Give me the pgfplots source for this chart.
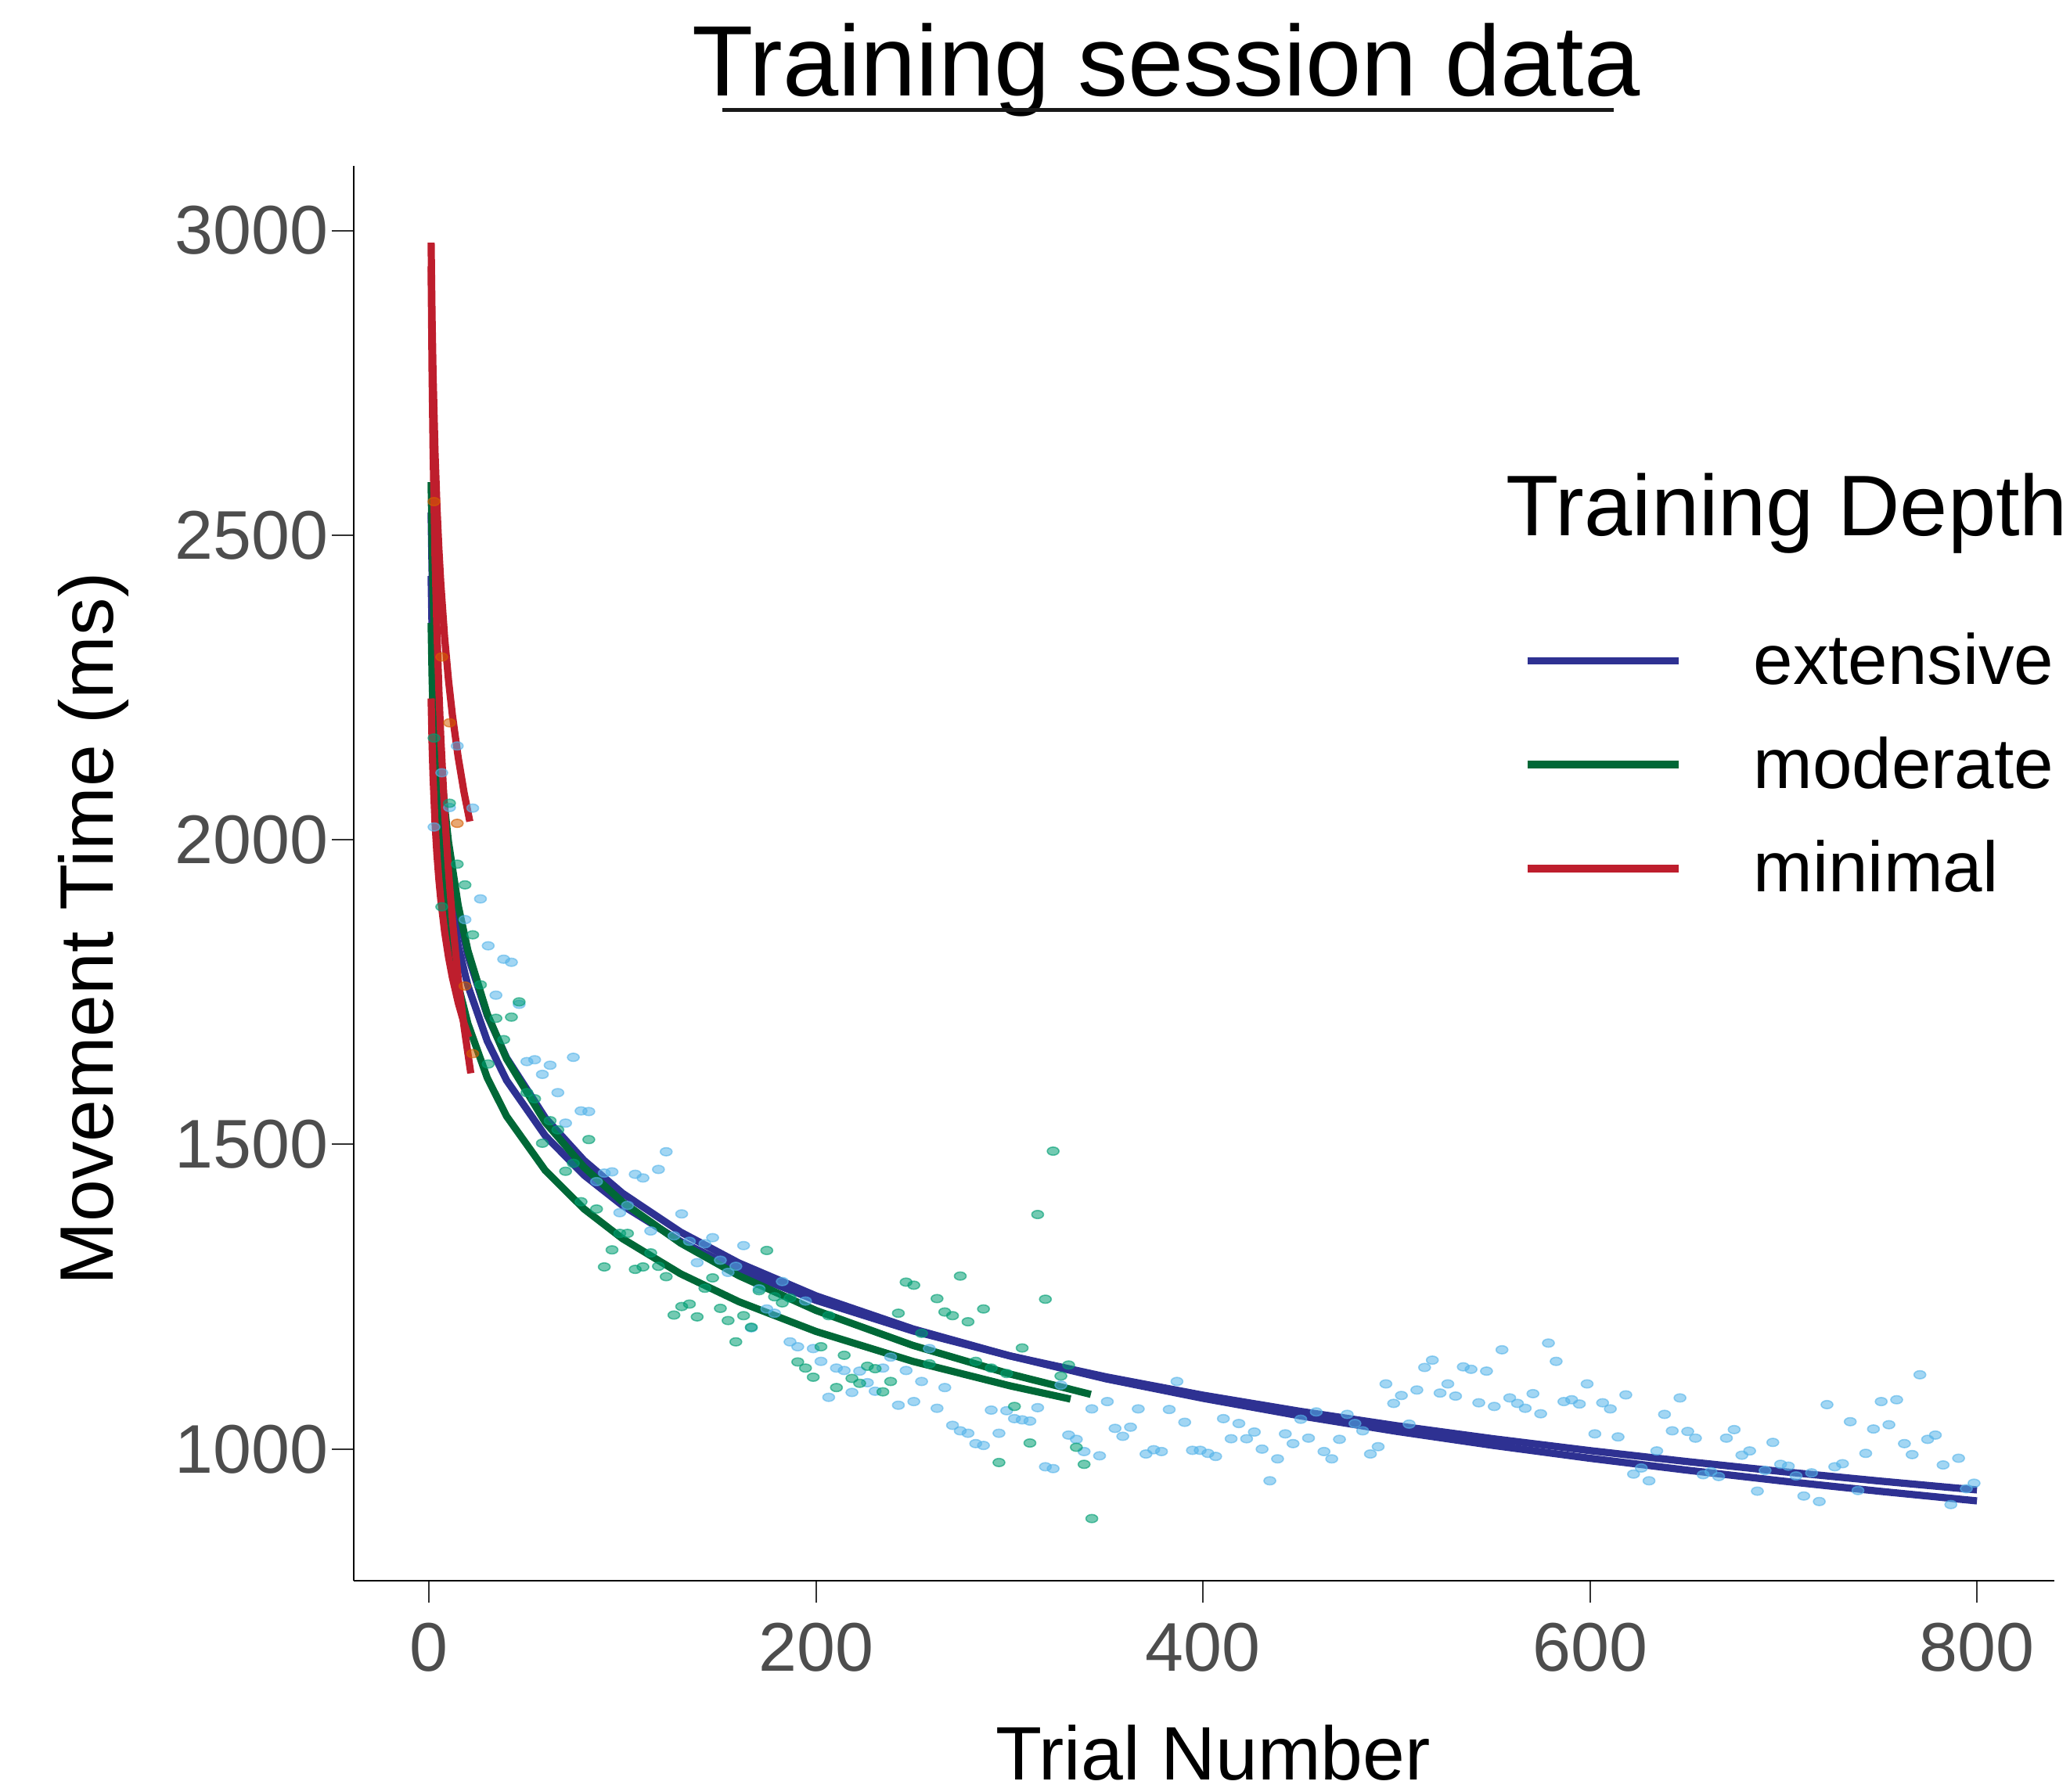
\documentclass[border=0pt]{standalone}
\usepackage{fontspec}
\setmainfont{Liberation Sans}
\usepackage{pgfplots}
\pgfplotsset{compat=1.18}

\definecolor{extline}{HTML}{2E3192}
\definecolor{modline}{HTML}{006837}
\definecolor{minline}{HTML}{BE1E2D}
\definecolor{extpt}{HTML}{56B4E9}
\definecolor{modpt}{HTML}{009E73}
\definecolor{minpt}{HTML}{D55E00}
\definecolor{tickgray}{HTML}{4D4D4D}

\pgfplotsset{
  pts/.style={only marks, mark=*, mark size=1.3pt, forget plot,
    mark options={xscale=1.45, line width=0.4pt, fill=#1, draw=#1,
      fill opacity=0.55, draw opacity=0.6}},
  fit/.style={color=#1, line width=2.3pt, no marks},
}

\begin{document}
\begin{tikzpicture}
\useasboundingbox (-113pt,-67.5pt) rectangle (548.25pt,505pt);
\begin{axis}[
  at={(0,0)}, anchor=south west,
  scale only axis, width=543.25pt, height=452pt,
  xmin=-39, xmax=840, ymin=784, ymax=3106,
  axis x line*=bottom, axis y line*=left,
  axis line style={-, line width=0.6pt},
  xtick={0,200,400,600,800}, ytick={1000,1500,2000,2500,3000},
  tick align=outside, major tick length=7pt,
  tick style={line width=0.5pt, color=black!80},
  ticklabel style={font=\fontsize{22}{25}\selectfont, text=tickgray},
  /pgf/number format/assume math mode=true,
  /pgf/number format/1000 sep={},
  xticklabel style={inner sep=0pt, yshift=-6.25pt},
  yticklabel style={inner sep=0pt, xshift=-1pt},
  xlabel={Trial Number},
  xlabel style={at={(axis description cs:0.5053,-0.14104)}, anchor=base,
    font=\fontsize{24.2}{29}\selectfont},
  ylabel={Movement Time (ms)},
  ylabel style={at={(axis description cs:-0.14128,0.46073)}, anchor=base,
    font=\fontsize{24.2}{29}\selectfont},
  legend style={at={(0.688,0.67)}, anchor=north west, draw=none, fill=none,
    inner sep=0pt, outer sep=0pt, row sep=15.2pt, column sep=22.75pt,
    font=\fontsize{22.7}{27}\selectfont, nodes={inner sep=0pt}},
  legend cell align=left,
  legend image code/.code={\draw[line width=2.4pt] (0pt,0pt) -- (48.25pt,0pt);},
]
% extensive points
\addplot[pts=extpt] coordinates {
(2.5,2021) (6.5,2110) (10.5,2053) (14.5,2154) (18.5,1869) (22.5,2052) (26.5,1903) (30.5,1826)
(34.5,1745) (38.5,1804) (42.5,1799) (46.5,1730) (50.5,1636) (54.5,1639) (58.5,1615) (62.5,1630)
(66.5,1585) (70.5,1535) (74.5,1643) (78.5,1555) (82.5,1554) (86.5,1439) (90.5,1453) (94.5,1455)
(98.5,1388) (102.5,1400) (106.5,1451) (110.5,1445) (114.5,1358) (118.5,1459) (122.5,1488) (126.5,1350)
(130.5,1386) (134.5,1341) (138.5,1306) (142.5,1337) (146.5,1347) (150.5,1310) (154.5,1290) (158.5,1300)
(162.5,1334) (166.5,1199) (170.5,1263) (174.5,1230) (178.5,1223) (182.5,1275) (186.5,1176) (190.5,1168)
(194.5,1243) (198.5,1165) (202.5,1144) (206.5,1085) (210.5,1133) (214.5,1129) (218.5,1093) (222.5,1128)
(226.5,1109) (230.5,1095) (234.5,1133) (238.5,1151) (242.5,1072) (246.5,1129) (250.5,1078) (254.5,1111)
(258.5,1165) (262.5,1067) (266.5,1101) (270.5,1039) (274.5,1030) (278.5,1026) (282.5,1009) (286.5,1006)
(290.5,1064) (294.5,1026) (298.5,1063) (302.5,1050) (306.5,1048) (310.5,1046) (314.5,1068) (318.5,971)
(322.5,968) (326.5,1105) (330.5,1023) (334.5,1016) (338.5,996) (342.5,1066) (346.5,989) (350.5,1078)
(354.5,1034) (358.5,1021) (362.5,1036) (366.5,1066) (370.5,992) (374.5,999) (378.5,996) (382.5,1065)
(386.5,1111) (390.5,1044) (394.5,998) (398.5,998) (402.5,993) (406.5,988) (410.5,1050) (414.5,1017)
(418.5,1042) (422.5,1017) (426.5,1028) (430.5,1000) (434.5,948) (438.5,984) (442.5,1025) (446.5,1009)
(450.5,1049) (454.5,1018) (458.5,1061) (462.5,996) (466.5,984) (470.5,1016) (474.5,1057) (478.5,1042)
(482.5,1030) (486.5,992) (490.5,1004) (494.5,1107) (498.5,1075) (502.5,1088) (506.5,1041) (510.5,1097)
(514.5,1134) (518.5,1146) (522.5,1092) (526.5,1107) (530.5,1087) (534.5,1135) (538.5,1131) (542.5,1076)
(546.5,1128) (550.5,1070) (554.5,1163) (558.5,1084) (562.5,1075) (566.5,1067) (570.5,1091) (574.5,1058)
(578.5,1174) (582.5,1144) (586.5,1078) (590.5,1081) (594.5,1074) (598.5,1107) (602.5,1025) (606.5,1076)
(610.5,1066) (614.5,1020) (618.5,1089) (622.5,959) (626.5,969) (630.5,948) (634.5,997) (638.5,1057)
(642.5,1030) (646.5,1084) (650.5,1029) (654.5,1018) (658.5,958) (662.5,963) (666.5,955) (670.5,1018)
(674.5,1032) (678.5,990) (682.5,997) (686.5,931) (690.5,965) (694.5,1011) (698.5,975) (702.5,972)
(706.5,956) (710.5,923) (714.5,961) (718.5,914) (722.5,1073) (726.5,971) (730.5,976) (734.5,1045)
(738.5,932) (742.5,993) (746.5,1033) (750.5,1078) (754.5,1040) (758.5,1081) (762.5,1009) (766.5,991)
(770.5,1122) (774.5,1016) (778.5,1023) (782.5,974) (786.5,909) (790.5,985) (794.5,935) (798.5,944)
};
% moderate points
\addplot[pts=modpt] coordinates {
(2.5,2167) (6.5,1890) (10.5,2060) (14.5,1960) (18.5,1926) (22.5,1844) (26.5,1762) (30.5,1632)
(34.5,1707) (38.5,1672) (42.5,1709) (46.5,1734) (50.5,1585) (54.5,1575) (58.5,1502) (62.5,1539)
(66.5,1524) (70.5,1456) (74.5,1469) (78.5,1406) (82.5,1508) (86.5,1394) (90.5,1299) (94.5,1327)
(98.5,1354) (102.5,1354) (106.5,1295) (110.5,1299) (114.5,1322) (118.5,1300) (122.5,1283) (126.5,1220)
(130.5,1234) (134.5,1238) (138.5,1217) (142.5,1264) (146.5,1281) (150.5,1231) (154.5,1211) (158.5,1176)
(162.5,1219) (166.5,1200) (170.5,1260) (174.5,1326) (178.5,1250) (182.5,1240) (186.5,1248) (190.5,1143)
(194.5,1133) (198.5,1118) (202.5,1168) (206.5,1219) (210.5,1101) (214.5,1154) (218.5,1116) (222.5,1108)
(226.5,1136) (230.5,1132) (234.5,1094) (238.5,1111) (242.5,1223) (246.5,1274) (250.5,1269) (254.5,1190)
(258.5,1140) (262.5,1247) (266.5,1225) (270.5,1219) (274.5,1284) (278.5,1209) (282.5,1144) (286.5,1230)
(290.5,1133) (294.5,978) (298.5,1124) (302.5,1070) (306.5,1166) (310.5,1010) (314.5,1385) (318.5,1246)
(322.5,1489) (326.5,1120) (330.5,1138) (334.5,1003) (338.5,975) (342.5,886)
};
% minimal points
\addplot[pts=minpt] coordinates {
(2.5,2555) (6.5,2300) (10.5,2192) (14.5,2027) (18.5,1760) (22.5,1649)
};
% extensive fits
\addplot[fit=extline] coordinates {
(1,2537.4) (1.5,2439.0) (2,2369.2) (3,2270.8) (4,2200.9) (6,2102.5) (8,2032.7) (10,1978.6)
(15,1880.1) (20,1810.3) (30,1711.9) (40,1642.1) (60,1543.7) (80,1473.9) (100,1419.7) (130,1356.1)
(160,1305.6) (200,1251.5) (250,1197.3) (300,1153.1) (350,1115.2) (400,1083.3) (450,1054.7) (500,1029.1)
(550,1006.0) (600,984.9) (650,965.5) (700,947.4) (750,930.7) (800,915.0)
};
\addlegendentry{extensive}
\addplot[fit=extline, forget plot] coordinates {
(1,2433) (1.5,2342.0) (2,2277.5) (3,2186.5) (4,2121.9) (6,2030.9) (8,1966.4) (10,1916.3)
(15,1825.3) (20,1760.8) (30,1669.8) (40,1605.2) (60,1514.2) (80,1449.7) (100,1399.6) (130,1340.7)
(160,1294.1) (200,1244.1) (250,1194.0) (300,1153.1) (350,1118.5) (400,1088.5) (450,1062.1) (500,1038.4)
(550,1017.0) (600,997.5) (650,979.6) (700,962.9) (750,947.5) (800,933.0)
};
% moderate fits
\addplot[fit=modline] coordinates {
(1,2587) (1.5,2483.0) (2,2409.1) (3,2305.1) (4,2231.3) (6,2127.2) (8,2053.4) (10,1996.2)
(15,1892.1) (20,1818.3) (30,1714.3) (40,1640.4) (60,1536.4) (80,1462.6) (100,1405.3) (130,1338.0)
(160,1284.7) (200,1227.5) (250,1170.2) (300,1123.4) (342,1089.8)
};
\addlegendentry{moderate}
\addplot[fit=modline, forget plot] coordinates {
(1,2356) (1.5,2267.0) (2,2203.9) (3,2114.9) (4,2051.7) (6,1962.7) (8,1899.6) (10,1850.6)
(15,1761.6) (20,1698.4) (30,1609.4) (40,1546.3) (60,1457.3) (80,1394.2) (100,1345.2) (130,1287.6)
(160,1242.0) (200,1193.0) (250,1144.0) (300,1104.0) (331.5,1082.1)
};
% minimal fits
\addplot[fit=minline] coordinates {
(1,2980) (1.5,2853.5) (2,2763.7) (3,2637.2) (4,2547.5) (5,2477.9) (6,2421.0) (8,2331.2)
(10,2261.6) (12,2204.7) (15,2135.1) (18,2078.2) (21,2030.1)
};
\addlegendentry{minimal}
\addplot[fit=minline, forget plot] coordinates {
(1,2941) (1.5,2766.0) (2,2641.9) (3,2466.8) (4,2342.7) (5,2246.4) (6,2167.7) (8,2043.5)
(10,1947.2) (12,1868.5) (15,1772.2) (18,1693.5) (21.5,1616.8)
};
\addplot[fit=minline, forget plot] coordinates {
(1,2232) (1.5,2157.2) (2,2104.2) (3,2029.4) (4,1976.4) (5,1935.2) (6,1901.6) (8,1848.6)
(10,1807.4) (12,1773.8) (15,1732.6) (18,1699.0) (20.4,1675.9)
};
\end{axis}
\node[anchor=base, font=\fontsize{32}{38}\selectfont, inner sep=0pt] at (259.5pt,474.25pt) {Training session data};
\draw[line width=1.25pt, black!90] (117.7pt,469.8pt) -- (402.4pt,469.8pt);
\node[anchor=base west, font=\fontsize{27.5}{33}\selectfont, inner sep=0pt] at (368pt,333.85pt) {Training Depth};
\end{tikzpicture}
\end{document}
